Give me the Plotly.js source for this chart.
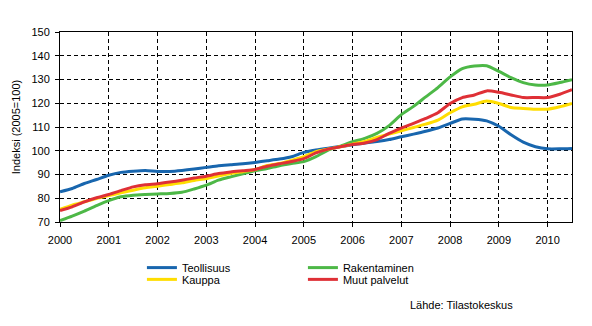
<!DOCTYPE html>
<html>
<head>
<meta charset="utf-8">
<script src="https://cdn.plot.ly/plotly-3.0.1.min.js"></script>
<style>html,body{margin:0;padding:0;background:#fff}#chart{width:592px;height:326px}</style>
</head>
<body>
<div id="chart"></div>
<script>
// Quarterly time points (decimal years)
const periods = [2000.0,2000.25,2000.5,2000.75,2001.0,2001.25,2001.5,2001.75,2002.0,2002.25,2002.5,2002.75,
  2003.0,2003.25,2003.5,2003.75,2004.0,2004.25,2004.5,2004.75,2005.0,2005.25,2005.5,2005.75,
  2006.0,2006.25,2006.5,2006.75,2007.0,2007.25,2007.5,2007.75,2008.0,2008.25,2008.5,2008.75,
  2009.0,2009.25,2009.5,2009.75,2010.0,2010.25,2010.5];

const teollisuus = [82.7,84.1,86.2,87.9,89.7,90.9,91.4,91.7,91.3,91.3,91.7,92.3,
  93.0,93.7,94.1,94.5,95.1,95.8,96.5,97.5,99.3,100.3,101.1,101.8,
  102.5,103.3,103.9,104.7,105.9,107.0,108.2,109.6,111.5,113.4,113.3,112.6,
  110.3,106.7,103.6,101.7,100.8,100.8,101.0];

const rakentaminen = [70.6,72.5,74.6,76.9,79.0,80.6,81.3,81.6,81.8,82.0,82.5,83.9,
  85.5,87.6,89.0,90.3,91.6,92.5,93.7,94.6,95.4,97.5,100.3,101.9,
  103.8,105.2,107.3,110.6,115.2,118.7,122.7,126.6,131.1,134.6,135.7,135.8,
  133.4,130.8,128.7,127.7,127.7,128.7,129.9];

const kauppa = [75.3,77.1,78.5,79.9,81.1,82.3,83.4,84.4,85.1,85.8,86.5,87.5,
  88.3,89.4,90.4,91.2,92.1,93.8,94.6,96.0,97.5,99.6,100.7,101.7,
  102.8,103.9,105.6,107.0,108.4,109.8,111.2,112.9,116.0,118.5,119.6,120.9,
  119.9,118.2,117.8,117.5,117.5,118.5,119.9];

const muutPalvelut = [74.8,76.4,78.5,80.2,81.6,83.2,84.8,85.7,86.1,86.8,87.6,88.5,
  89.3,90.4,91.1,91.6,92.1,93.5,94.5,95.5,96.7,99.1,100.7,101.7,
  102.6,103.3,104.7,107.3,109.5,111.5,113.6,116.0,119.9,122.4,123.5,125.2,
  124.6,123.5,122.4,122.4,122.4,123.8,125.7];

const yearTicks = [2000,2001,2002,2003,2004,2005,2006,2007,2008,2009,2010];
const seriesNames = ["Teollisuus","Rakentaminen","Kauppa","Muut palvelut"];
const seriesColors = ["#1866AE","#4DB847","#FFDD00","#DF3036"];

const F = "Liberation Sans, Arial, sans-serif";
const data = [
  {x: periods, y: teollisuus, name: seriesNames[0], legend: "legend"},
  {x: periods, y: rakentaminen, name: seriesNames[1], legend: "legend"},
  {x: periods, y: kauppa, name: seriesNames[2], legend: "legend2"},
  {x: periods, y: muutPalvelut, name: seriesNames[3], legend: "legend2"}
].map((t, i) => Object.assign(t, {
  type: "scatter", mode: "lines",
  line: {color: seriesColors[i], width: 3, shape: "spline", smoothing: 0.6},
  hoverinfo: "x+y+name"
}));

const legendCommon = {
  orientation: "h", xanchor: "left", yanchor: "middle",
  x: 0.16, entrywidth: 116, entrywidthmode: "pixels",
  font: {family: F, size: 11, color: "#000"},
  bgcolor: "rgba(0,0,0,0)", borderwidth: 0, tracegroupgap: 0,
  itemwidth: 30, traceorder: "normal"
};

const layout = {
  width: 592, height: 326,
  margin: {l: 60, r: 20, t: 32, b: 104},
  paper_bgcolor: "#fff", plot_bgcolor: "#fff",
  font: {family: F, size: 11, color: "#000"},
  showlegend: true,
  legend: Object.assign({}, legendCommon, {y: -0.24}),
  legend2: Object.assign({}, legendCommon, {y: -0.302}),
  xaxis: {
    range: [2000, 2010.5],
    tickvals: yearTicks, ticktext: yearTicks.map(String),
    showgrid: true, gridcolor: "#000", gridwidth: 1, griddash: "4px,3px",
    showline: true, linecolor: "#000", linewidth: 1, mirror: true,
    ticks: "outside", ticklen: 4, tickcolor: "#000", ticklabelstandoff: 4,
    tickfont: {family: F, size: 11, color: "#000"},
    zeroline: false, fixedrange: true
  },
  yaxis: {
    range: [70, 150], dtick: 10, tick0: 70,
    title: {text: "Indeksi (2005=100)", font: {family: F, size: 11, color: "#000"}, standoff: 8},
    showgrid: true, gridcolor: "#000", gridwidth: 1, griddash: "4px,3px",
    showline: true, linecolor: "#000", linewidth: 1, mirror: true,
    ticks: "outside", ticklen: 4, tickcolor: "#000", ticklabelstandoff: 3,
    tickfont: {family: F, size: 11, color: "#000"},
    zeroline: false, fixedrange: true
  },
  annotations: [{
    text: "Lähde: Tilastokeskus", xref: "paper", yref: "paper",
    x: 0.888, y: -0.437, xanchor: "right", yanchor: "middle",
    showarrow: false, font: {family: F, size: 11, color: "#000"}
  }]
};

Plotly.newPlot("chart", data, layout, {displayModeBar: false});
</script>
</body>
</html>
